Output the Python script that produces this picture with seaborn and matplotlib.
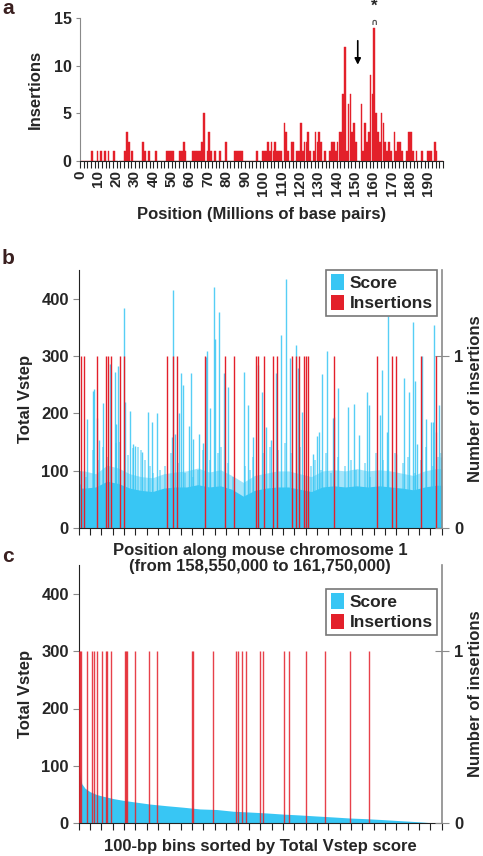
import numpy as np
import pandas as pd
import matplotlib
matplotlib.use("Agg")
import matplotlib.pyplot as plt
from matplotlib.patches import Patch
import seaborn as sns

# ---------------------------------------------------------------
# Data

# a: insertions per 1-Mb bin along chromosome 1 (only non-empty bins)
a_bins = [6, 9, 11, 13, 15, 18, 24, 25, 26, 28, 34, 35, 37, 41, 47, 48, 49, 50,
          54, 55, 56, 57, 61, 62, 63, 64, 65, 66, 67, 69, 70, 71, 73, 76, 79,
          84, 85, 86, 87, 88, 96, 99, 100, 101, 102, 103, 104, 105, 106, 107,
          108, 109, 111, 112, 113, 115, 116, 118, 119, 120, 121, 122, 123, 124,
          125, 127, 128, 129, 130, 131, 133, 136, 137, 138, 139, 140, 141, 142,
          143, 144, 145, 146, 147, 148, 149, 150, 153, 154, 155, 156, 157, 158,
          159, 160, 161, 162, 163, 164, 165, 166, 167, 168, 169, 171, 172, 173,
          174, 175, 178, 179, 180, 181, 183, 186, 189, 190, 191, 193, 194]
a_counts = [1, 1, 1, 1, 1, 1, 1, 3, 2, 1, 2, 1, 1, 1, 1, 1, 1, 1,
            1, 1, 2, 1, 1, 1, 1, 1, 1, 2, 5, 1, 3, 1, 1, 1, 2,
            1, 1, 1, 1, 1, 1, 1, 1, 1, 2, 1, 2, 1, 2, 1,
            1, 1, 4, 3, 1, 2, 2, 1, 1, 4, 1, 2, 2, 3,
            1, 1, 3, 2, 3, 2, 1, 1, 2, 2, 1, 2, 3, 3,
            7, 12, 1, 6, 7, 3, 4, 2, 6, 1, 4, 2, 3, 9,
            7, 14, 5, 3, 2, 5, 4, 2, 1, 2, 1, 3, 1, 2,
            2, 1, 1, 3, 3, 1, 1, 1, 1, 1, 1, 2, 1]
a_ticks = list(range(0, 200, 10))

# b: Total Vstep score, kb from 158,550,000
base_kb = [50, 150, 250, 350, 450, 550, 650, 750, 850, 950, 1050, 1150, 1250,
           1350, 1450, 1550, 1650, 1750, 1850, 1950, 2050, 2150, 2250, 2350,
           2450, 2550, 2650, 2750, 2850, 2950, 3050, 3150]
base_score = [70, 72, 82, 78, 70, 66, 64, 70, 72, 72, 76, 72, 74, 68, 56, 66,
              70, 72, 72, 68, 64, 72, 74, 72, 74, 72, 74, 72, 70, 67, 72, 75]
fuzz_score = [100, 95, 110, 105, 95, 90, 88, 95, 98, 100, 105, 98, 102, 92, 80, 92,
              96, 100, 100, 95, 90, 100, 102, 100, 104, 100, 102, 100, 96, 92, 100, 104]

mid_kb = [23, 67, 126, 170, 214, 258, 332, 361, 435, 479, 523, 552, 582, 626,
          655, 714, 758, 817, 875, 934, 1008, 1052, 1096, 1155, 1228, 1257,
          1316, 1360, 1463, 1507, 1536, 1625, 1683, 1757, 1816, 1874, 1948,
          2051, 2080, 2139, 2183, 2227, 2286, 2344, 2403, 2447, 2521, 2565,
          2624, 2682, 2726, 2785, 2859, 2903, 2961, 3020, 3064, 3123, 3167, 3196]
mid_score = [99, 90, 137, 119, 142, 125, 148, 151, 128, 140, 142, 137, 119, 108,
             96, 102, 108, 131, 113, 96, 90, 102, 137, 119, 131, 142,
             113, 90, 108, 102, 125, 131, 142, 137, 148, 131, 142,
             108, 119, 102, 131, 96, 125, 108, 119, 102, 113, 90,
             131, 119, 102, 131, 113, 125, 96, 119, 142, 108, 125, 131]

spike_kb = [12, 76, 123, 135, 162, 179, 217, 276, 320, 329, 347, 397, 406, 450,
            476, 497, 555, 611, 644, 693, 820, 829, 852, 884, 902, 920, 970,
            987, 1005, 1064, 1093, 1123, 1134, 1161, 1190, 1199, 1234, 1281,
            1319, 1458, 1493, 1540, 1584, 1613, 1649, 1696, 1743, 1781, 1825,
            1863, 1916, 1931, 1966, 2063, 2098, 2122, 2142, 2192, 2239, 2254,
            2283, 2371, 2424, 2471, 2539, 2562, 2656, 2677, 2715, 2724, 2795,
            2868, 2909, 2944, 2965, 2983, 3024, 3065, 3109, 3121, 3132, 3153,
            3174, 3191]
spike_score = [78, 190, 240, 243, 192, 153, 218, 286, 272, 182, 283, 383, 220, 205,
               146, 144, 133, 202, 186, 200, 159, 416, 165, 201, 270, 250, 178,
               270, 156, 165, 148, 298, 309, 209, 420, 330, 376, 270,
               246, 273, 215, 159, 285, 238, 176, 153, 270, 337, 434,
               296, 319, 280, 203, 130, 160, 168, 269, 309, 192, 194,
               244, 211, 217, 162, 237, 214, 197, 275, 168, 370, 130,
               261, 237, 360, 257, 146, 301, 191, 186, 185, 355, 168,
               214, 124]

ins_b_kb = [21, 47, 165, 238, 256, 288, 361, 397, 776, 832, 867, 1114, 1290,
            1372, 1560, 1584, 1634, 1710, 1748, 1878, 1913, 1942, 1989, 2007,
            2019, 2251, 2633, 2765, 2795, 3015, 3153]

# c: bins sorted by score (rank in thousands of 100-bp bins)
sorted_rank = [0, 0.27, 0.56, 1.0, 1.59, 2.18, 3.06, 3.94, 4.82, 6.29, 7.76,
               9.22, 10.69, 12.16, 13.63, 15.1, 16.58, 18.05, 19.52, 20.99,
               22.46, 23.9, 25.38, 26.85, 28.32, 29.79, 30.98, 31.26, 32]
sorted_score = [98, 69, 61, 55, 50, 47, 43, 40, 37.5, 33.5, 30.6, 28, 25, 24,
                21, 19.6, 18, 16, 14.5, 12.7, 11, 9.2, 8, 6.4, 4.6, 2.9, 1.2, 0, 0]
ins_c_rank = [0.03, 0.12, 0.24, 0.76, 1.15, 1.38, 1.59, 2.09, 2.41, 2.50, 2.88,
              4.06, 4.17, 4.26, 4.94, 6.20, 6.94, 9.96, 10.08, 11.81, 13.90,
              14.02, 14.37, 14.72, 16.01, 16.25, 18.07, 18.51, 20.07, 21.75,
              23.95, 25.59]

# ---------------------------------------------------------------
sns.set_style("ticks")
plt.rcParams['font.family'] = ['Liberation Sans', 'DejaVu Sans']
plt.rcParams['font.weight'] = 'bold'
plt.rcParams['axes.labelweight'] = 'bold'

RED = '#e3202a'
BLUE = '#38c6f4'
DARK = '#222222'
GREY = '#8a8a8a'
FS = 12

fig = plt.figure(figsize=(4.83, 8.56), dpi=100)

# ---------------- panel a
ax_a = fig.add_axes([80 / 483, 1 - 160.7 / 856, 363 / 483, 142.7 / 856])
df_a = pd.DataFrame({'pos': np.array(a_bins) + 0.5, 'n': a_counts})
sns.histplot(data=df_a, x='pos', weights='n', binwidth=1, binrange=(0, 198),
             color=RED, alpha=1, linewidth=0.3, edgecolor=RED, ax=ax_a)
ax_a.set_xlim(0, 198)
ax_a.set_ylim(0, 15)
ax_a.set_yticks([0, 5, 10, 15])
ax_a.set_xticks(a_ticks)
ax_a.set_xticks(range(0, 199, 2), minor=True)
ax_a.set_xticklabels([str(t) for t in a_ticks], rotation=90)
ax_a.tick_params(axis='x', which='both', length=5, width=0.8, color=DARK,
                 labelsize=11, pad=2)
ax_a.tick_params(axis='y', length=3, width=0.8, color=GREY, labelsize=11.5, pad=3)
ax_a.set_ylabel('Insertions', fontsize=FS, labelpad=8)
ax_a.set_xlabel('Position (Millions of base pairs)', fontsize=FS, labelpad=8)
for s in ['top', 'right']:
    ax_a.spines[s].set_visible(False)
ax_a.spines['left'].set_color(GREY)
ax_a.spines['bottom'].set_color(DARK)
ax_a.annotate('', xy=(151.5, 9.8), xytext=(151.5, 12.9),
              arrowprops=dict(arrowstyle='-|>', color='black', lw=1.2,
                              mutation_scale=9))
ax_a.text(160.5, 16.25, '*', ha='center', va='center', fontsize=12,
          clip_on=False)
ax_a.text(160.5, 14.55, '∩', ha='center', va='center', fontsize=6.5,
          color='#555555', family='DejaVu Sans', clip_on=False)


def style_score_axes(ax, ax2, xmax, xticks):
    ax.set_xlim(0, xmax)
    ax.set_ylim(0, 450)
    ax.set_yticks([0, 100, 200, 300, 400])
    ax.set_xticks(xticks)
    ax.set_xticklabels([])
    ax.tick_params(axis='x', length=5, width=0.8, color=DARK)
    ax.tick_params(axis='y', length=4, width=0.8, color=GREY, labelsize=FS, pad=3)
    ax.set_ylabel('Total Vstep', fontsize=FS, labelpad=6)
    ax.spines['top'].set_visible(False)
    ax.spines['right'].set_visible(False)
    ax.spines['left'].set_color(DARK)
    ax.spines['bottom'].set_color(DARK)
    ax.patch.set_visible(False)
    ax2.set_ylim(0, 1.5)
    ax2.set_yticks([0, 1])
    ax2.tick_params(axis='y', direction='inout', length=10, width=0.8,
                    color=GREY, labelsize=FS, pad=4)
    ax2.set_ylabel('Number of insertions', fontsize=FS, labelpad=3)
    for s in ['top', 'left', 'bottom']:
        ax2.spines[s].set_visible(False)
    ax2.spines['right'].set_color(GREY)
    ax2.spines['right'].set_linewidth(1.2)


legend_handles = [Patch(facecolor=BLUE, edgecolor='none', label='Score'),
                  Patch(facecolor=RED, edgecolor='none', label='Insertions')]


def add_legend(ax2, ytop):
    leg = ax2.legend(handles=legend_handles, loc='upper right',
                     bbox_to_anchor=(0.988, ytop), fontsize=FS + 0.5,
                     frameon=True, fancybox=False, framealpha=1,
                     edgecolor='#777777', borderpad=0.25, labelspacing=0.2,
                     handlelength=0.75, handleheight=1.0, handletextpad=0.35,
                     borderaxespad=0)
    leg.get_frame().set_linewidth(1.2)


# ---------------- panel b
ax_b = fig.add_axes([78.7 / 483, 1 - 528.3 / 856, 363 / 483, 258.3 / 856])
edge_kb = [0] + base_kb + [3200]
ax_b.fill_between(edge_kb, [fuzz_score[0]] + fuzz_score + [fuzz_score[-1]],
                  color=BLUE, alpha=0.45, linewidth=0)
ax_b.fill_between(edge_kb, [base_score[0]] + base_score + [base_score[-1]],
                  color=BLUE, linewidth=0)
ax_b.vlines(mid_kb, 0, mid_score, color=BLUE, lw=1.1, alpha=0.6)
ax_b.vlines(spike_kb, 0, spike_score, color=BLUE, lw=1.0, alpha=0.85)
ax_b2 = ax_b.twinx()
ax_b2.vlines(ins_b_kb, 0, 1, color=RED, lw=1.0)
style_score_axes(ax_b, ax_b2, 3200, range(0, 3201, 100))
ax_b.set_xlabel('Position along mouse chromosome 1\n(from 158,550,000 to 161,750,000)',
                fontsize=FS, labelpad=2, linespacing=1.1)
add_legend(ax_b2, 1.0)

# ---------------- panel c
ax_c = fig.add_axes([78.7 / 483, 1 - 823.3 / 856, 363 / 483, 258.3 / 856])
ax_c.fill_between(sorted_rank, sorted_score, color=BLUE, linewidth=0)
ax_c2 = ax_c.twinx()
ax_c2.vlines(ins_c_rank, 0, 1, color=RED, lw=1.0, alpha=0.85)
style_score_axes(ax_c, ax_c2, 32, range(0, 33))
ax_c.set_xlabel('100-bp bins sorted by Total Vstep score', fontsize=FS,
                labelpad=3)
add_legend(ax_c2, 0.907)

# panel letters
for lab, y in [('a', 8), ('b', 258), ('c', 557)]:
    fig.text(0.004, 1 - y / 856, lab, fontsize=15, color='#3a2020',
             va='center', ha='left')

plt.savefig("out.png", dpi=100)
